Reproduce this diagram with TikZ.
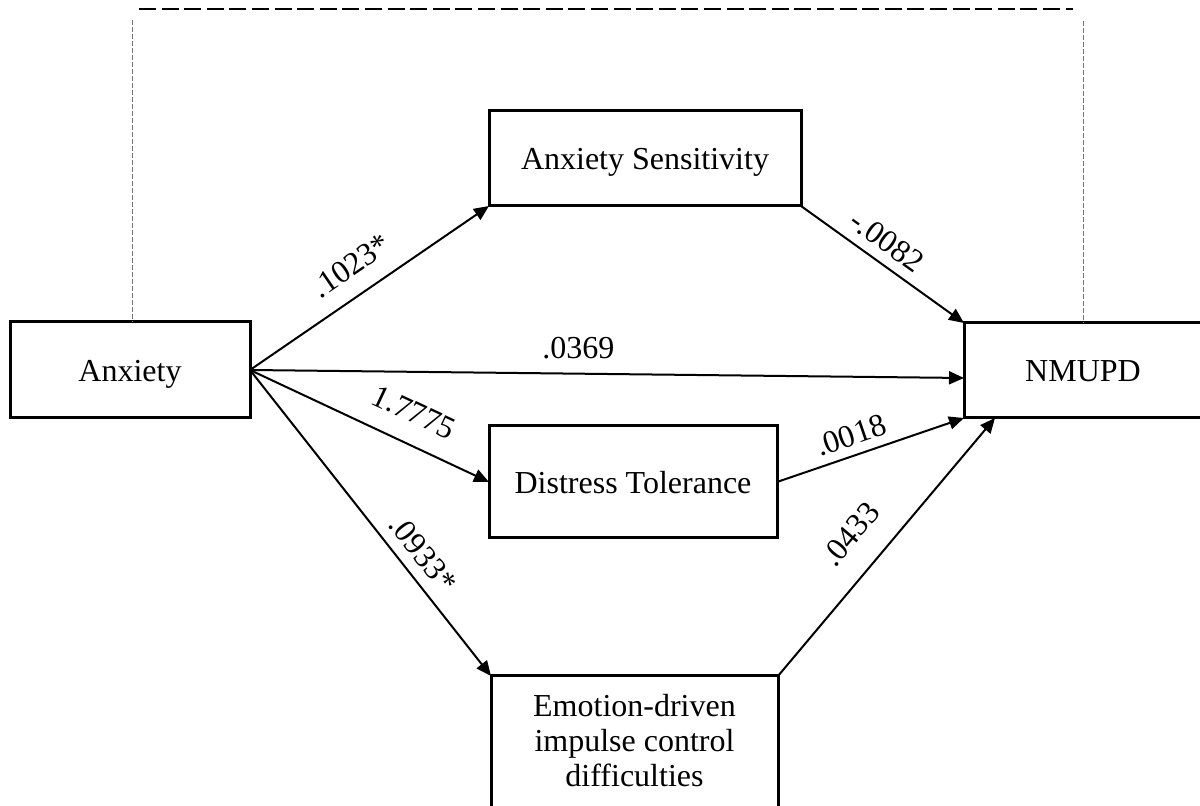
\documentclass[tikz,border=0pt]{standalone}
\usepackage{fontspec}
\setmainfont{Liberation Serif}
\usetikzlibrary{arrows.meta,calc}
\begin{document}
\begin{tikzpicture}[x=0.5pt,y=-0.5pt,
  box/.style={draw,line width=1.5pt,inner sep=0pt,outer sep=0pt,
    font=\fontsize{16}{17.5}\selectfont,text height=11.5pt,text depth=0pt},
  conn/.style={line width=1pt,-{Triangle[length=7.5pt,width=6.5pt]}},
  lab/.style={inner sep=0pt,font=\fontsize{16}{17.5}\selectfont},
  topdash/.style={line width=1.3pt,dash pattern=on 8.5pt off 2.8pt},
  vdash/.style={line width=0.5pt,draw=black!55,dash pattern=on 2.5pt off 1pt}]
\clip (0,0) rectangle (1200,806);
\fill[white] (0,0) rectangle (1200,806);

\node[box,minimum width=120pt,minimum height=48pt] (Anx) at (130,370) {Anxiety};
\node[box,minimum width=156pt,minimum height=47.5pt] (AS) at (645,158.5) {Anxiety Sensitivity};
\node[box,minimum width=144pt,minimum height=56pt] (DT) at (633,482) {Distress Tolerance};
\node[box,minimum width=119pt,minimum height=47.5pt] (N) at (1083,370.5) {NMUPD};
\node[box,minimum width=143.5pt,minimum height=80pt] (E) at (634.5,756) {};
\node[anchor=north,inner sep=0pt,align=center,font=\fontsize{16}{17.5}\selectfont] (Et) at (634.5,694)
  {Emotion-driven\\impulse control\\difficulties};

\coordinate (TL) at (139,9);
\coordinate (TR) at (1073,9);
\coordinate (VL) at (132,20);
\coordinate (VR) at (1083,21);
\draw[topdash] (TL) -- (TR);
\draw[vdash] (VL) -- (VL |- Anx.north);
\draw[vdash] (VR) -- (VR |- N.north);

\draw[conn] (Anx.east) -- (AS.south west)
  node[lab,sloped,pos=0.49,above=8.4pt] {.1023*};
\draw[conn] (Anx.east) -- ($(N.west)+(0,7.5)$)
  node[lab,pos=0.46,above=7pt] {.0369};
\draw[conn] (Anx.east) -- (DT.west)
  node[lab,sloped,pos=0.63,above=9.7pt] {1.7775};
\draw[conn] (Anx.east) -- (E.north west)
  node[lab,sloped,pos=0.646,above=5.3pt] {.0933*};
\draw[conn] (AS.south east) -- (N.north west)
  node[lab,sloped,pos=0.45,above=4.7pt] {-.0082};
\draw[conn] (DT.east) -- (N.south west)
  node[lab,sloped,pos=0.43,above=4.2pt] {.0018};
\draw[conn] (E.north east) -- ($(N.south west)+(31,0)$)
  node[lab,sloped,pos=0.46,above=12pt] {.0433};
\end{tikzpicture}
\end{document}
